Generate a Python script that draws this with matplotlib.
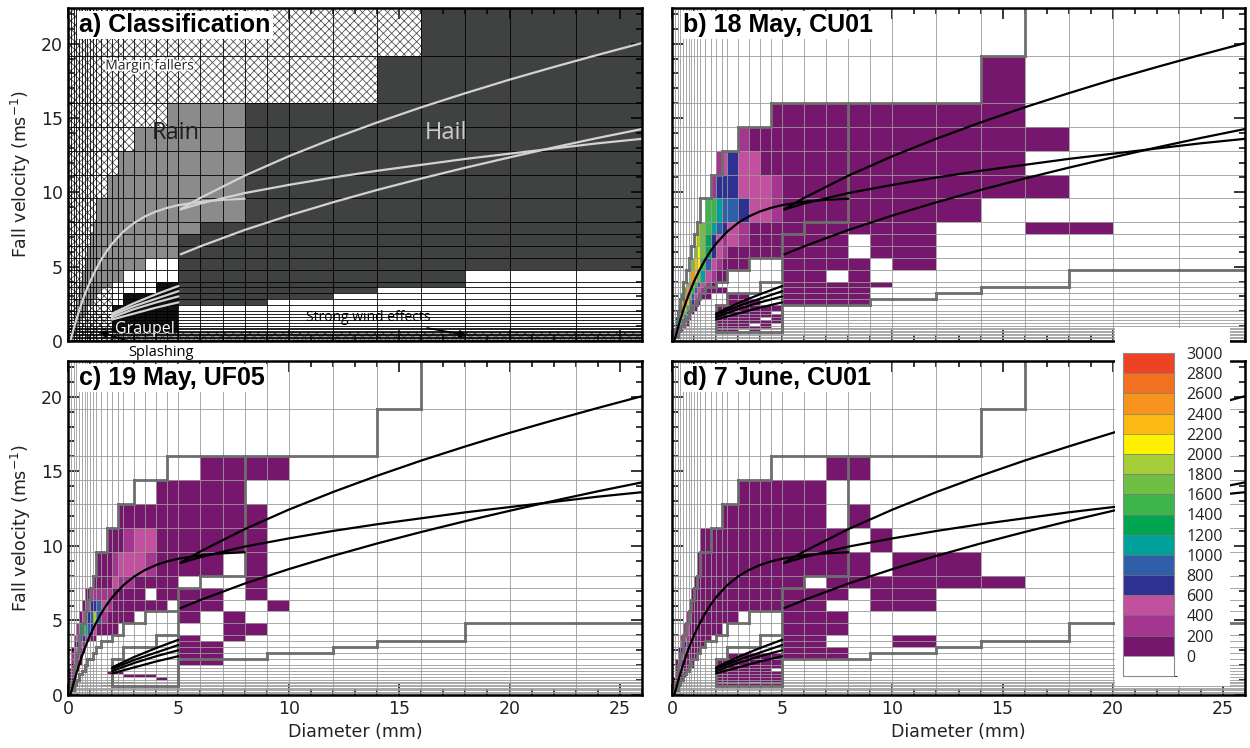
import numpy as np
import matplotlib.pyplot as plt
from matplotlib.colors import ListedColormap, BoundaryNorm
from matplotlib.collections import PatchCollection, LineCollection
from matplotlib.patches import Rectangle
from matplotlib.ticker import MultipleLocator
from matplotlib.cm import ScalarMappable
import matplotlib.patheffects as pe

plt.rcParams['hatch.color'] = '#4a4a4a'
plt.rcParams['hatch.linewidth'] = 0.55

# ---- disdrometer size / velocity classes ----
d_edges = [0, 0.125, 0.25, 0.375, 0.5, 0.625, 0.75, 0.875, 1.0, 1.125, 1.25,
           1.5, 1.75, 2.0, 2.25, 2.5, 3.0, 3.5, 4.0, 4.5, 5.0,
           6, 7, 8, 9, 10, 12, 14, 16, 18, 20, 23, 26]
v_edges = [0, 0.1, 0.2, 0.3, 0.4, 0.5, 0.6, 0.7, 0.8, 0.9, 1.0,
           1.2, 1.4, 1.6, 1.8, 2.0, 2.4, 2.8, 3.2, 3.6, 4.0,
           4.8, 5.6, 6.4, 7.2, 8.0, 9.6, 11.2, 12.8, 14.4, 16.0, 19.2, 22.4]

# ---- classification, one string per velocity class (top row = fastest) ----
# m margin fallers, r rain, h hail, g graupel, w unclassified,
# s splashing, l strong wind, x lowest velocity band
class_rows = [
    "mmmmmmmmmm mmmmm mmmmm mmmmm mmmhh hh",
    "mmmmmmmmmm mmmmm mmmmm mmmmm mmhhh hh",
    "mmmmmmmmmm mmmmm mmmmr rrrhh hhhhh hh",
    "mmmmmmmmmm mmmmm mrrrr rrrhh hhhhh hh",
    "mmmmmmmmmm mmmmr rrrrr rrrhh hhhhh hh",
    "mmmmmmmmmm mmrrr rrrrr rrrhh hhhhh hh",
    "mmmmmmmmmm rrrrr rrrrr rrrhh hhhhh hh",
    "mmmmmmmmmr rrrrr rrrrr rhhhh hhhhh hh",
    "mmmmmmmmrr rrrrr rrrrr hhhhh hhhhh hh",
    "mmmmmmmrrr rrrrr rrrrr hhhhh hhhhh hh",
    "mmmmmmrrrr rrrrr rrwww hhhhh hhhhh hh",
    "mmmmmrrrrr rrrrr wwwww hhhhh hhhhl ll",
    "mmmmrrrrrr rrrww wwwgg hhhhh hhhhl ll",
    "mmmmrrrrrr rssww wwwgg hhhhh hhlll ll",
    "mmmmrrrrrr sssww ggggg hhhhh hllll ll",
    "mmmrrrrrrs sssww ggggg hhhhl lllll ll",
    "mmmrrrrsss sssgg ggggg lllll lllll ll",
    "mmrrrrssss sssgg ggggg lllll lllll ll",
    "mmrrrrssss sssgg ggggg lllll lllll ll",
    "mmrrrsssss sssgg ggggg lllll lllll ll",
    "mmrrssssss sssgg ggggg lllll lllll ll",
    "mmrrssssss sssgg ggggg lllll lllll ll",
    "mmrsssssss sssgg ggggg lllll lllll ll",
    "mmrsssssss sssgg ggggg lllll lllll ll",
    "srrsssssss sssgg ggggg lllll lllll ll",
    "srssssssss sssgg ggggg lllll lllll ll",
    "srssssssss sssxx xxxxx xxxxx xxxxx xx",
    "srssssssss sssxx xxxxx xxxxx xxxxx xx",
    "srssssssss sssxx xxxxx xxxxx xxxxx xx",
    "ssssssssss sssxx xxxxx xxxxx xxxxx xx",
    "ssssssssss sssxx xxxxx xxxxx xxxxx xx",
    "ssssssssss sssxx xxxxx xxxxx xxxxx xx",
]

# ---- particle counts per class, coded by colour level ----
# '.' none, '1' 0-200, '2' 200-400, ... 'f' 2800-3000
counts_b = [
    ".......... ..... ..... ..... ..... ..",
    ".......... ..... ..... ..... ..1.. ..",
    ".......... ..... ....1 11111 111.. ..",
    ".......... ..... .2111 11111 1111. ..",
    ".......... ...23 43311 11111 111.. ..",
    ".......... ..244 43332 11111 1111. ..",
    ".......... .8865 54332 11111 11... ..",
    ".........a 98654 32111 11111 1..11 ..",
    "........ba 97432 32111 111.1 1.... ..",
    "........9b 97432 11111 111.1 1.... ..",
    ".......9cb 85321 11... 1111. 1.... ..",
    "......adc9 63211 ..... 11.1. ..... ..",
    ".....9ec85 321.. ..... 11111 ..... ..",
    "....8dc853 21111 ..... 1111. ..... ..",
    "...6de9532 11... 11... 1111. ..... ..",
    "...afc7421 ..... 111.. 1111. ..... ..",
    "..7ec8421. ...11 11111 ..... ..... ..",
    "..ad9521.. ...11 1111. ..... ..... ..",
    "..bc731... ...11 11111 ..... ..... ..",
    ".4ca521... ...11 111.1 ..... ..... ..",
    ".6b831.... ...11 11111 ..... ..... ..",
    ".5a621.... ...11 11.1. ..... ..... ..",
    ".5a62..... ...11 1111. ..... ..... ..",
    ".4862..... ...11 11111 ..... ..... ..",
    "2661...... ...11 1.1.. ..... ..... ..",
    "2551...... ....1 ..... ..... ..... ..",
    "242....... ..... ..... ..... ..... ..",
    "231....... ..... ..... ..... ..... ..",
    "12........ ..... ..... ..... ..... ..",
    "11........ ..... ..... ..... ..... ..",
    "1......... ..... ..... ..... ..... ..",
    "1......... ..... ..... ..... ..... ..",
]

counts_c = [
    ".......... ..... ..... ..... ..... ..",
    ".......... ..... ..... ..... ..... ..",
    ".......... ..... ..... .1111 ..... ..",
    ".......... ..... ...11 111.. ..... ..",
    ".......... ....1 11111 1111. ..... ..",
    ".......... ..111 23311 1111. ..... ..",
    ".......... 11123 33211 11.1. ..... ..",
    ".........1 11132 21111 ...1. ..... ..",
    "......1122 22211 11.11 11.1. ..... ..",
    ".....12344 53211 1111. 11..1 ..... ..",
    "....13545a 52111 1.... 1.1.. ..... ..",
    "...2786543 1111. ..... ..11. ..... ..",
    "..23542211 ..... ..... 1.1.. ..... ..",
    "..1432.... ..... ..... 11... ..... ..",
    ".13321.... ..... ..... 11... ..... ..",
    ".2321..... ..... ..... 11... ..... ..",
    ".2321..... ..... ..... 11... ..... ..",
    ".231...... ..... ..... ..... ..... ..",
    "1221...... ..... ..... ..... ..... ..",
    "121....... ..111 ..... ..... ..... ..",
    "121....... ..... 111.. ..... ..... ..",
    "12........ ..... ...1. ..... ..... ..",
    "11........ ..... ..... ..... ..... ..",
    "1......... ...11 1.... ..... ..... ..",
    "1......... ..... ..... ..... ..... ..",
    "1......... .11.. ..... ..... ..... ..",
    "1......... ..... ..... ..... ..... ..",
    ".......... ..... ..... ..... ..... ..",
    ".......... ..... ..... ..... ..... ..",
    ".......... ..... ..... ..... ..... ..",
    ".......... ..... ..... ..... ..... ..",
    ".......... ..... ..... ..... ..... ..",
]

counts_d = [
    ".......... ..... ..... ..... ..... ..",
    ".......... ..... ..... ..... ..... ..",
    ".......... ..... ..... ..11. ..... ..",
    ".......... ..... .1111 11... ..... ..",
    ".......... ....1 11111 11.1. ..... ..",
    ".......... 11111 11111 111.1 ..... ..",
    ".........1 11111 11111 1111. 11... ..",
    "........11 11111 11111 1.111 111.. ..",
    ".......111 11111 11111 111.1 1.... ..",
    "......1111 11111 11111 11..1 1.... ..",
    ".....21111 11111 1.... 111.. ..... ..",
    "....231111 1111. ..... 111.. ..... ..",
    "...2321111 11... ..... 11... 1.... ..",
    "...3421111 1.... ..... 11... 1.... ..",
    "..14311111 ..... ..... 111.. ..... ..",
    "..2321111. ..... 11111 111.. ..... ..",
    ".1421111.. ...11 11111 ..... ..... ..",
    ".1321111.. ...11 11111 ..... ..... ..",
    ".13211.... ...11 1111. ..... ..... ..",
    ".2421..... ...11 11111 ..... ..... ..",
    ".2311..... ...11 11111 ..... ..... ..",
    "1221...... ...11 11111 ..... ..... ..",
    "121....... ...11 11111 ..... ..... ..",
    "12........ ...11 11.11 ..... ..... ..",
    "11........ ...11 11111 ..... ..... ..",
    "1......... ...11 11111 ..... ..... ..",
    "1......... ..... ..... ..... ..... ..",
    "1......... ..... ..... ..... ..... ..",
    ".......... ..... ..... ..... ..... ..",
    ".......... ..... ..... ..... ..... ..",
    ".......... ..... ..... ..... ..... ..",
    ".......... ..... ..... ..... ..... ..",
]

# ---- fall speed relations ----
rain_d = [0.1, 0.15, 0.25, 0.35, 0.5, 0.65, 0.8, 1.0, 1.25, 1.5, 1.75, 2.0,
          2.5, 3.0, 3.5, 4.0, 4.5, 5.0, 6.0, 7.0, 8.0]
rain_v = [0.0, 0.24, 0.78, 1.30, 2.02, 2.68, 3.28, 4.00, 4.78, 5.46, 6.05, 6.55,
          7.35, 7.95, 8.39, 8.72, 8.96, 9.14, 9.37, 9.50, 9.57]
hail_d = [5.1, 6, 8, 10, 12, 14, 16, 18, 20, 22, 24, 26]
hail_v1 = [8.87, 9.63, 11.12, 12.43, 13.61, 14.70, 15.72, 16.67, 17.58, 18.43, 19.25, 20.04]
hail_v2 = [8.85, 9.25, 9.95, 10.5, 11.0, 11.45, 11.85, 12.25, 12.6, 12.95, 13.3, 13.6]
hail_v3 = [5.83, 6.37, 7.47, 8.44, 9.33, 10.16, 10.93, 11.66, 12.35, 13.02, 13.66, 14.26]
graupel_d = [2.0, 3.0, 4.0, 5.0]
graupel_v = [[1.85, 2.55, 3.15, 3.7],
             [1.75, 2.35, 2.85, 3.35],
             [1.6, 2.15, 2.6, 3.0],
             [1.45, 1.85, 2.25, 2.6]]

level_codes = '.123456789abcdef'
bar_colors = ['#76166c', '#a5368f', '#c2509e', '#2e3192', '#2f5fa9', '#00a19b',
              '#00a551', '#3db54a', '#70bf44', '#a6ce39', '#fff200', '#fdb913',
              '#f7941d', '#f37021', '#ef4123']
bar_bounds = list(range(-200, 3001, 200))
panel_titles = ['a) Classification', 'b) 18 May, CU01', 'c) 19 May, UF05', 'd) 7 June, CU01']

cmap = ListedColormap(['white'] + bar_colors)
norm = BoundaryNorm(bar_bounds, cmap.N)


def rows_of(grid):
    return [r.replace(' ', '') for r in grid[::-1]]


def count_array(grid):
    lev = np.array([[level_codes.index(ch) for ch in r] for r in rows_of(grid)])
    cnt = np.where(lev > 0, lev * 200 - 100, 0)
    return np.ma.masked_equal(cnt, 0)


classes = rows_of(class_rows)


def class_outline():
    # boundaries between the rain, hail and graupel areas and everything else
    grp = {'r': 1, 'h': 2, 'g': 3}
    G = np.array([[grp.get(ch, 0) for ch in r] for r in classes])
    segs = []
    ni, nj = G.shape
    for i in range(ni):
        for j in range(nj - 1):
            if G[i, j] != G[i, j + 1]:
                segs.append([(d_edges[j + 1], v_edges[i]), (d_edges[j + 1], v_edges[i + 1])])
    for i in range(ni - 1):
        for j in range(nj):
            if G[i, j] != G[i + 1, j]:
                segs.append([(d_edges[j], v_edges[i + 1]), (d_edges[j + 1], v_edges[i + 1])])
    return segs


def setup_axes(ax, show_x, show_y):
    ax.set_xlim(0, 26)
    ax.set_ylim(0, 22.4)
    ax.set_xticks(range(0, 26, 5))
    ax.set_yticks(range(0, 21, 5))
    ax.xaxis.set_minor_locator(MultipleLocator(1))
    ax.yaxis.set_minor_locator(MultipleLocator(1))
    ax.tick_params(which='both', direction='in', top=True, right=True, width=1.1,
                   labelsize=12.5, labelcolor='#222222')
    ax.tick_params(which='major', length=8)
    ax.tick_params(which='minor', length=4)
    ax.tick_params(labelbottom=show_x, labelleft=show_y)
    for s in ax.spines.values():
        s.set_linewidth(1.8)
        s.set_zorder(8)
    if show_x:
        ax.set_xlabel('Diameter (mm)', fontsize=12.5, color='#222222', labelpad=4)
    if show_y:
        ax.set_ylabel('Fall velocity (ms$^{-1}$)', fontsize=12.5, color='#222222', labelpad=6)


def draw_grid(ax, color, lw):
    ax.vlines(d_edges, 0, 22.4, colors=color, lw=lw, zorder=3)
    ax.hlines(v_edges, 0, 26, colors=color, lw=lw, zorder=3)


def draw_title(ax, text):
    ax.text(0.02, 0.984, text, transform=ax.transAxes, ha='left', va='top',
            fontsize=18, fontweight='bold', family='Liberation Sans', zorder=9,
            bbox=dict(fc='white', ec='none', pad=1.5))


def draw_curves(ax, color):
    kw = dict(color=color, lw=1.6, zorder=6, solid_capstyle='round')
    ax.plot(rain_d, rain_v, **kw)
    for hv in (hail_v1, hail_v2, hail_v3):
        ax.plot(hail_d, hv, **kw)
    for gv in graupel_v:
        ax.plot(graupel_d, gv, **kw)


fig = plt.figure(figsize=(12.5, 7.48), dpi=100)
ax_a = fig.add_axes([0.0544, 0.5441, 0.4592, 0.4452])
ax_b = fig.add_axes([0.5376, 0.5441, 0.4584, 0.4452])
ax_c = fig.add_axes([0.0544, 0.0709, 0.4592, 0.4465])
ax_d = fig.add_axes([0.5376, 0.0709, 0.4584, 0.4465])

# ---- panel a: classification map ----
fill_colors = {'m': 'white', 's': 'white', 'w': 'white', 'l': 'white',
               'x': '#ababab', 'r': '#8b8b8b', 'h': '#404242', 'g': '#111111'}
hatched = []
for i, row in enumerate(classes):
    for j, ch in enumerate(row):
        xy = (d_edges[j], v_edges[i])
        w = d_edges[j + 1] - d_edges[j]
        h = v_edges[i + 1] - v_edges[i]
        ax_a.add_patch(Rectangle(xy, w, h, fc=fill_colors[ch], ec='none', zorder=1))
        if ch in 'msx':
            hatched.append(Rectangle(xy, w, h))
ax_a.add_collection(PatchCollection(hatched, facecolor='none', edgecolor='#4a4a4a',
                                    linewidth=0, hatch='xxxx', zorder=2))
draw_grid(ax_a, 'black', 0.6)
draw_curves(ax_a, '#d2d2d2')
txt = dict(family='Open Sans', zorder=7)
halo = [pe.withStroke(linewidth=2.5, foreground='white')]
ax_a.text(3.7, 18.5, 'Margin fallers', fontsize=10, color='#222222', ha='center',
          va='center', path_effects=halo, **txt)
ax_a.text(4.9, 14.0, 'Rain', fontsize=17, color='#1e1e1e', ha='center', va='center', **txt)
ax_a.text(17.1, 14.0, 'Hail', fontsize=17, color='#cccccc', ha='center', va='center', **txt)
ax_a.text(3.5, 0.8, 'Graupel', fontsize=11.5, color='white', ha='center', va='center', **txt)
ax_a.annotate('Strong wind effects', xy=(18.2, 0.35), xytext=(13.6, 1.6), fontsize=10,
              ha='center', va='center', family='Open Sans', zorder=7,
              arrowprops=dict(arrowstyle='-|>', color='black', lw=1.2, mutation_scale=11))
ax_a.annotate('Splashing', xy=(1.3, 0.7), xytext=(4.2, -0.75), fontsize=10.5,
              ha='center', va='center', family='Open Sans', zorder=9, annotation_clip=False,
              arrowprops=dict(arrowstyle='-|>', color='black', lw=1.2, mutation_scale=11))

# ---- panels b-d: particle counts ----
outline = class_outline()
for ax, grid in ((ax_b, counts_b), (ax_c, counts_c), (ax_d, counts_d)):
    ax.pcolormesh(d_edges, v_edges, count_array(grid), cmap=cmap, norm=norm, zorder=1)
    draw_grid(ax, '#9a9a9a', 0.6)
    ax.add_collection(LineCollection(outline, colors='#6e6e6e', lw=2.0, zorder=5,
                                     capstyle='projecting'))
    draw_curves(ax, 'black')

for ax, t in zip((ax_a, ax_b, ax_c, ax_d), panel_titles):
    draw_title(ax, t)
setup_axes(ax_a, False, True)
setup_axes(ax_b, False, False)
setup_axes(ax_c, True, True)
setup_axes(ax_d, True, False)

# ---- colour bar on a white panel ----
fig.add_artist(Rectangle((1115 / 1250, 1 - 686 / 748), 115 / 1250, 358 / 748,
                         transform=fig.transFigure, fc='white', ec='none', zorder=3))
cax = fig.add_axes([1123 / 1250, 1 - 676 / 748, 51 / 1250, 323 / 748])
cax.set_zorder(4)
cb = fig.colorbar(ScalarMappable(norm=norm, cmap=cmap), cax=cax,
                  ticks=list(range(0, 3001, 200)), drawedges=True)
cb.outline.set_edgecolor('#8a8a8a')
cb.outline.set_linewidth(0.8)
cb.dividers.set_color('#7a7a7a')
cb.dividers.set_linewidth(0.5)
cax.tick_params(length=0, pad=9, labelsize=11.5, labelcolor='#222222')
for lab in cax.get_yticklabels():
    lab.set_family('Open Sans')

fig.savefig('out.png', dpi=100)
